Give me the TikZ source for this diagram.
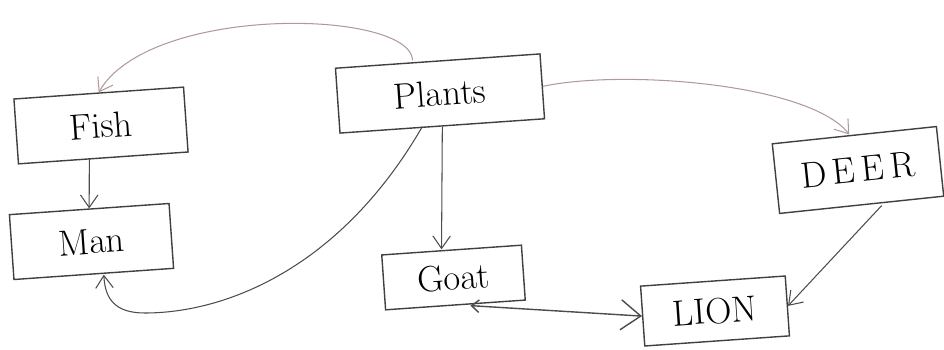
\documentclass[tikz,border=0pt]{standalone}
\usepackage{tikz}
\usetikzlibrary{arrows.meta,positioning,calc}

\begin{document}
\begin{tikzpicture}[
  box/.style={draw=black!75, thick, minimum height=1.3cm, inner sep=2pt, font=\huge, rotate=4},
  arr/.style={-{Straight Barb[length=2.5mm,width=3.5mm]}, black!70, semithick},
  faint/.style={arr, draw=red!25!black!40}
]
\useasboundingbox (0,0) rectangle (18.88,6.98);
\node[box, minimum width=3.4cm] (fish) at (2.02,4.47) {Fish};
\node[box, minimum width=3.2cm] (man) at (1.83,2.15) {Man};
\node[box, minimum width=4.1cm] (plants) at (8.8,5.11) {Plants};
\node[box, minimum width=2.8cm, minimum height=1.1cm] (goat) at (9.07,1.43) {Goat};
\node[box, minimum width=3.3cm, minimum height=1.4cm, rotate=2] (deer) at (17.16,3.58) {D\,E\,E\,R};
\node[box, minimum width=2.9cm, minimum height=1.2cm] (lion) at (14.3,0.76) {LION};
\draw[arr] ([xshift=-0.28cm]fish.south) -- (man.north);
\draw[arr] (plants.south) -- ([xshift=-0.2cm]goat.north);
\draw[faint] ([xshift=-0.5cm]plants.north) .. controls (8.2,6.8) and (3.0,6.9) .. (fish.north);
\draw[faint] (plants.east) .. controls (12.5,5.6) and (16.2,5.3) .. ([xshift=-0.1cm]deer.north);
\draw[arr] ([xshift=-0.4cm]plants.south) .. controls (6.8,1.6) and (4.5,0.72) .. (2.9,0.72)
  .. controls (2.3,0.72) and (2.1,1.0) .. ([xshift=0.2cm]man.south);
\draw[arr] ([xshift=0.4cm]deer.south) -- (lion.east);
\draw[arr, thick, {Straight Barb[length=1.5mm,width=2.5mm]}-{Straight Barb[length=4mm,width=6mm]}]
  ([xshift=0.3cm]goat.south) -- (lion.west);
\end{tikzpicture}
\end{document}
